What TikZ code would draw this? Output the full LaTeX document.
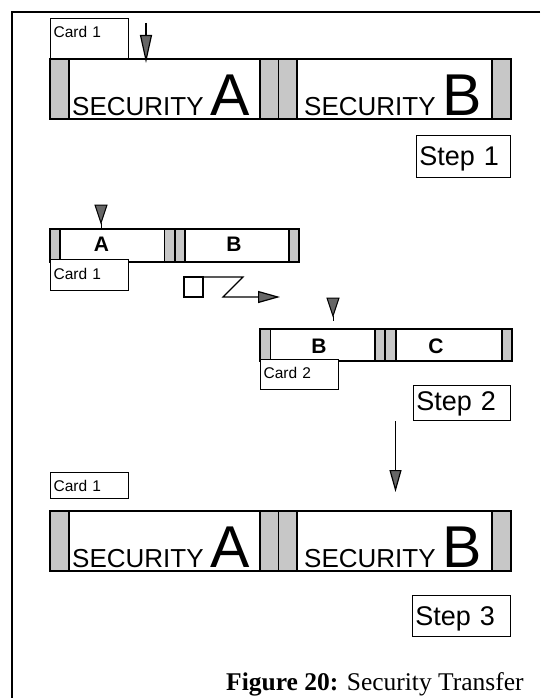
\documentclass[tikz,border=0pt]{standalone}
\usepackage{fontspec}
\setmainfont{Liberation Serif}
\newfontfamily\helv{Liberation Sans}
\usetikzlibrary{arrows.meta, positioning, calc}
\tikzset{
    frame/.style={line width=1.8pt, black},
    grip/.style={draw=black, line width=1.2pt, fill=black!22},
    field/.style={draw=black, line width=1.2pt, fill=white},
    card/.style={draw=black, line width=1.2pt, fill=white, anchor=north west, inner xsep=3pt, inner ysep=0pt, text width=72pt, align=left, font=\helv\fontsize{15.5}{15.5}\selectfont},
    stepbox/.style={draw=black, line width=1.2pt, anchor=north east, inner xsep=3pt, inner ysep=0pt, align=left, font=\helv\fontsize{27}{27}\selectfont},
    big/.style={anchor=base west, inner sep=0pt, font=\helv\fontsize{26}{26}\selectfont},
    tag/.style={anchor=base, inner sep=0pt, font=\helv\bfseries\fontsize{21}{21}\selectfont},
    push/.style={-{Triangle[length=#1, width=12pt, fill=black!60]}, line width=1.2pt},
    pointer/.style={fill=black!60, draw=black, line width=1pt}
}
\newcommand{\biglet}[1]{{\fontsize{59}{59}\selectfont #1}}

\begin{document}
\begin{tikzpicture}[x=1pt, y=-1pt]
    \useasboundingbox (0,0) rectangle (541,698);
    % frame (top and left only)
    \draw[frame] (540,12) -- (12,12) -- (12,698);

    % ---- step 1
    \foreach \xa/\xb in {50/69, 260/278.5, 278.5/297, 492/511}
        \filldraw[grip] (\xa,59) rectangle (\xb,119);
    \draw[field] (69,59) rectangle (260,119);
    \draw[field] (297,59) rectangle (492,119);
    \node[big] (secA) at (72,116) {SECURITY \biglet{A}};
    \node[big] (secB) at (304,116) {SECURITY \biglet{B}};
    \node[card, text height=19pt, text depth=21pt] (cardI) at (50,18) {Card 1};
    \coordinate (hitA) at (146,63);
    \draw[push=28pt] (146,23) -- (hitA);
    \node[stepbox, text width=88pt, text height=30pt, text depth=12pt] (stepI) at (511,135) {Step 1};

    % ---- step 2
    \foreach \xa/\xb in {50/60, 164.5/175, 175/185, 289/299}
        \filldraw[grip] (\xa,229) rectangle (\xb,262);
    \draw[field] (60,229) rectangle (164.5,262);
    \draw[field] (185,229) rectangle (289,262);
    \node[tag] (fldA) at (101.5,251) {A};
    \node[tag] (fldB) at (234,251) {B};
    \node[card, text height=20pt, text depth=11pt] (cardII) at (50,258.5) {Card 1};
    \filldraw[pointer] (95,205) -- (107,205) -- (101,223) -- cycle;
    \draw[line width=1pt] (101,223) -- (101,229);

    % move along
    \draw[line width=1.2pt] (184,277) rectangle (203,297);
    \draw[push=22pt] (203,277) -- (243,277) -- (223,297) -- (280,297);

    \foreach \xa/\xb in {260/270.5, 375/385, 385/396, 502/512}
        \filldraw[grip] (\xa,329) rectangle (\xb,361);
    \draw[field] (270.5,329) rectangle (375,361);
    \draw[field] (396,329) rectangle (502,361);
    \node[tag] (fldB2) at (319,353) {B};
    \node[tag] (fldC) at (436,353) {C};
    \node[card, text height=19pt, text depth=11pt] (cardIII) at (260,359) {Card 2};
    \filldraw[pointer] (327,298) -- (339,298) -- (333,316) -- cycle;
    \draw[line width=1pt] (333,316) -- (333,321);
    \node[stepbox, text width=91pt, text height=25pt, text depth=10pt] (stepII) at (511,384.5) {Step 2};

    % ---- step 3
    \coordinate (hitB) at (395.5,492);
    \draw[push=22pt] (395.5,421) -- (hitB);
    \node[card, text height=19pt, text depth=7pt] (cardIV) at (50,472) {Card 1};
    \foreach \xa/\xb in {50/69, 260/278.5, 278.5/297, 492/511}
        \filldraw[grip] (\xa,511) rectangle (\xb,571);
    \draw[field] (69,511) rectangle (260,571);
    \draw[field] (297,511) rectangle (492,571);
    \node[big] (secA2) at (72,567) {SECURITY \biglet{A}};
    \node[big] (secB2) at (304,567) {SECURITY \biglet{B}};
    \node[stepbox, text width=92pt, text height=30pt, text depth=11pt] (stepIII) at (511,595) {Step 3};

    \node[anchor=base west, inner sep=0pt, font=\fontsize{25.5}{25.5}\selectfont] (caption) at (226,690) {\textbf{Figure 20:} Security Transfer};
\end{tikzpicture}
\end{document}
